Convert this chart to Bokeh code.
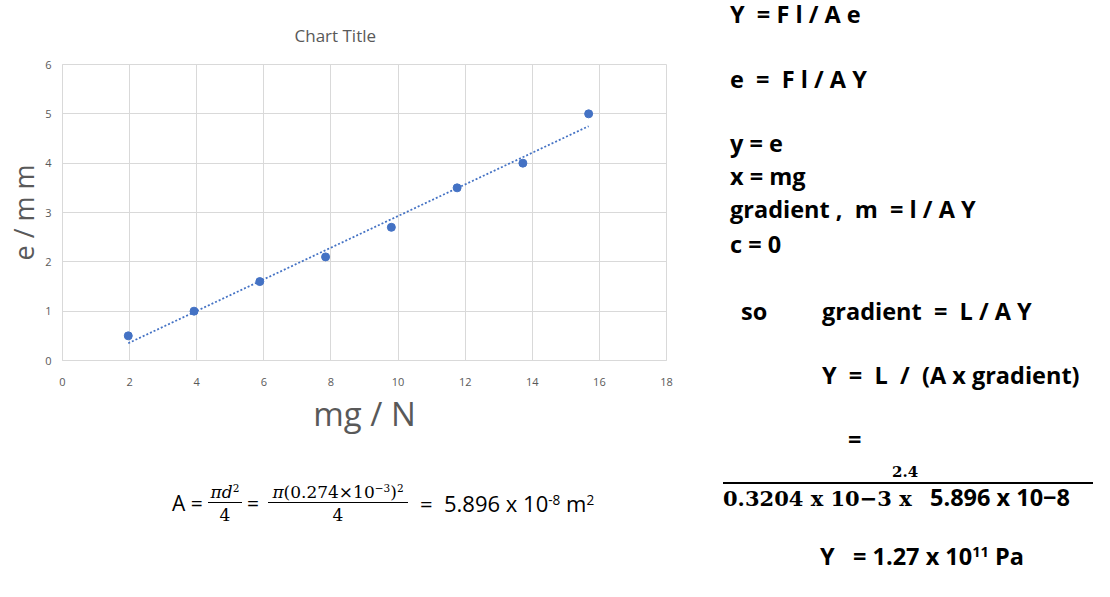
from bokeh.plotting import figure
from bokeh.models import ColumnDataSource, Range1d, FixedTicker, Div
from bokeh.layouts import row, column
from bokeh.embed import file_html
from bokeh.resources import INLINE
import numpy as np

# load on the wire (mg, in N) against extension (e, in mm)
mg_newton = [1.96, 3.92, 5.88, 7.84, 9.80, 11.76, 13.72, 15.68]
ext_mm = [0.5, 1.0, 1.6, 2.1, 2.7, 3.5, 4.0, 5.0]
x_ticks = [0, 2, 4, 6, 8, 10, 12, 14, 16, 18]
y_ticks = [0, 1, 2, 3, 4, 5, 6]

BLUE = "#4472C4"
GREY = "#595959"
GRID = "#d9d9d9"
SANS = "Open Sans"
SERIF = "DejaVu Serif"

# linear trendline, same as Excel's
slope, icpt = np.polyfit(mg_newton, ext_mm, 1)
fit_x = [min(mg_newton), max(mg_newton)]
fit_y = [slope * v + icpt for v in fit_x]

src = ColumnDataSource(dict(x=mg_newton, y=ext_mm))

p = figure(width=700, height=448, x_range=Range1d(0, 18), y_range=Range1d(0, 6),
           title="Chart Title", output_backend="svg", toolbar_location=None,
           min_border_left=62, min_border_right=34, min_border_top=64,
           min_border_bottom=88)

p.title.align = "left"
p.title.offset = 232
p.title.standoff = 36
p.title.text_font = SANS
p.title.text_font_size = "17px"
p.title.text_font_style = "normal"
p.title.text_color = GREY

p.line(fit_x, fit_y, line_color=BLUE, line_width=1.75, line_dash="2 2")
p.scatter("x", "y", source=src, size=8, fill_color=BLUE, line_color=BLUE)

p.xaxis.ticker = FixedTicker(ticks=x_ticks)
p.yaxis.ticker = FixedTicker(ticks=y_ticks)
p.xgrid.grid_line_color = GRID
p.ygrid.grid_line_color = GRID
p.outline_line_color = GRID

for ax in (p.xaxis[0], p.yaxis[0]):
    ax.axis_line_color = GRID
    ax.major_tick_line_color = None
    ax.minor_tick_line_color = None
    ax.major_label_text_font = SANS
    ax.major_label_text_font_size = "11px"
    ax.major_label_text_color = GREY
    ax.axis_label_text_font = SANS
    ax.axis_label_text_font_style = "normal"
    ax.axis_label_text_color = GREY

p.xaxis.axis_label = "mg / N"
p.xaxis.axis_label_text_font_size = "33px"
p.xaxis.major_label_standoff = 11
p.xaxis.axis_label_standoff = 2

p.yaxis.axis_label = "e / m m"
p.yaxis.axis_label_text_font_size = "27px"
p.yaxis.major_label_standoff = 5
p.yaxis.axis_label_standoff = 0


def box(left, top, html, size, font=SANS, weight="normal"):
    return (f'<div style="position:absolute;left:{left}px;top:{top}px;white-space:pre;'
            f'font-family:\'{font}\';font-size:{size}px;line-height:{size}px;'
            f'font-weight:{weight};color:#000;">{html}</div>')


def frac(left, top, width, num, den, size=17):
    return (f'<div style="position:absolute;left:{left}px;top:{top}px;width:{width}px;'
            f'text-align:center;font-family:\'{SERIF}\';font-size:{size}px;color:#000;">'
            f'<div style="height:20px;line-height:20px;white-space:pre;">{num}</div>'
            f'<div style="border-top:1.5px solid #000;padding-top:4px;line-height:17px;">{den}</div>'
            f'</div>')


SUP = '<sup style="font-size:0.62em;line-height:0;vertical-align:0.55em;">{}</sup>'

area_html = "".join([
    box(172, 45, "A =", 21),
    frac(208, 34, 34, "<i>π</i><i>d</i>" + SUP.format("2"), "4"),
    box(247, 45, "=", 21),
    frac(268, 34, 140, "<i>π</i>(0.274×10" + SUP.format("−3") + ")" + SUP.format("2"), "4"),
    box(420, 44, "=  5.896 x 10" + SUP.format("-8") + " m" + SUP.format("2"), 22),
])
area_div = Div(text=f'<div style="position:relative;width:700px;height:130px;">{area_html}</div>',
               width=700, height=130, margin=0, styles={"overflow": "visible"})

B = 23.5
steps_html = "".join([
    box(30, 3, "Y  = F l / A e", B, weight="bold"),
    box(30, 68, "e  =  F l / A Y", B, weight="bold"),
    box(30, 132, "y = e", B, weight="bold"),
    box(30, 165, "x = mg", B, weight="bold"),
    box(30, 198, "gradient ,  m  = l / A Y", B, weight="bold"),
    box(30, 233, "c = 0", B, weight="bold"),
    box(41, 300, "so", B, weight="bold"),
    box(122, 300, "gradient  =  L / A Y", B, weight="bold"),
    box(122, 364, "Y  =  L  /  (A x gradient)", B, weight="bold"),
    box(148, 428, "=", B, weight="bold"),
    box(192, 465, "2.4", 15, font=SERIF, weight="bold"),
    '<div style="position:absolute;left:23px;top:482px;width:370px;height:2px;background:#000;"></div>',
    box(23, 488, "0.3204 x 10−3 x", 21, font=SERIF, weight="bold"),
    box(230, 486, "5.896 x 10−8", B, weight="bold"),
    box(120, 545, "Y   = 1.27 x 10" + SUP.format("11") + " Pa", B, weight="bold"),
])
steps_div = Div(text=f'<div style="position:relative;width:400px;height:580px;">{steps_html}</div>',
                width=400, height=580, margin=0, styles={"overflow": "visible"})

layout = row(column(p, area_div), steps_div)

open("out.html", "w").write(file_html(layout, INLINE))
